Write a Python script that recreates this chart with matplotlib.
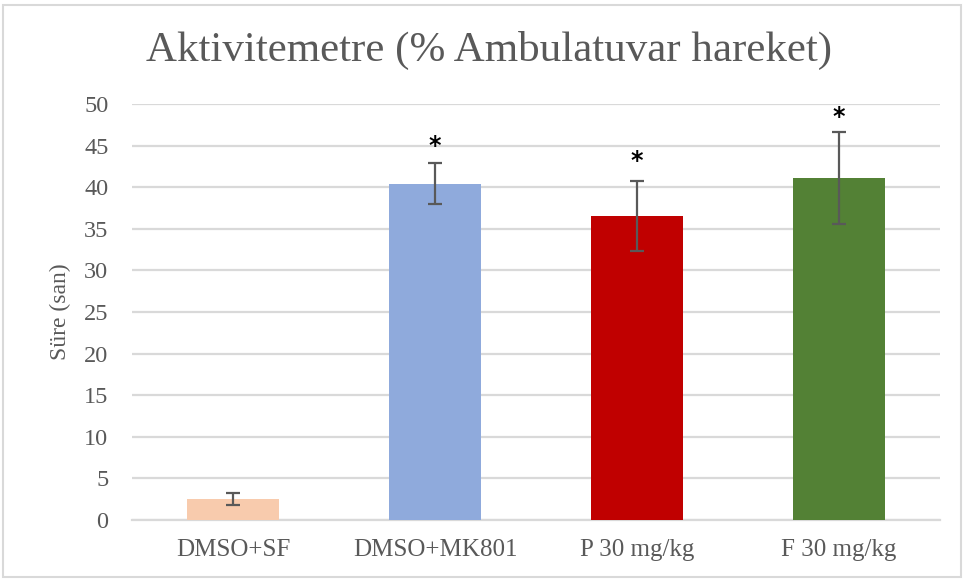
import matplotlib
matplotlib.use("Agg")
import matplotlib.pyplot as plt
from matplotlib.patches import Rectangle

categories = ["DMSO+SF", "DMSO+MK801", "P 30 mg/kg", "F 30 mg/kg"]
values = [2.5, 40.4, 36.5, 41.1]
errors = [0.75, 2.45, 4.2, 5.55]
star_heights = [None, 44.95, 43.1, 48.4]
colors = ["#F8CBAD", "#8FAADC", "#C00000", "#538135"]
yticks = [0, 5, 10, 15, 20, 25, 30, 35, 40, 45, 50]

W, H = 963, 580
fig = plt.figure(figsize=(W / 100, H / 100), dpi=100)
serif = ["Liberation Serif", "DejaVu Serif"]
txt = "#595959"

ax = fig.add_axes([132 / W, (H - 520) / H, (940 - 132) / W, (520 - 104) / H])
x = list(range(len(categories)))
ax.bar(x, values, width=0.455, color=colors, zorder=3)
ax.errorbar(x, values, yerr=errors, fmt="none", ecolor="#595959",
            elinewidth=1.6, capsize=5, capthick=1.6, zorder=4)
for xi, s in zip(x, star_heights):
    if s is not None:
        ax.text(xi, s, "*", ha="center", va="center", fontsize=17,
                fontweight="bold", color="black", family="DejaVu Sans", zorder=5)

ax.set_xlim(-0.5, len(categories) - 0.5)
ax.set_ylim(0, 50)
ax.set_yticks(yticks)
ax.set_xticks(x)
ax.set_xticklabels(categories, family=serif, fontsize=18, color=txt)
ax.set_yticklabels([str(t) for t in yticks], family=serif, fontsize=17.5, color=txt)
ax.tick_params(axis="y", length=0, pad=17)
ax.tick_params(axis="x", length=0, pad=14)
ax.grid(axis="y", color="#D9D9D9", linewidth=1.6, zorder=0)
for sp in ["top", "right", "left"]:
    ax.spines[sp].set_visible(False)
ax.spines["bottom"].set_color("#D9D9D9")
ax.spines["bottom"].set_linewidth(1.6)
ax.spines["bottom"].set_zorder(2)

fig.text(489 / W, 1 - 50 / H, "Aktivitemetre (% Ambulatuvar hareket)",
         ha="center", va="center", fontsize=31, color=txt, family=serif)
fig.text(60 / W, 1 - 312 / H, "Süre (san)", rotation=90, ha="center",
         va="center", fontsize=17, color=txt, family=serif)

fig.patches.append(Rectangle((3 / W, 3 / H), (W - 5) / W, (H - 8) / H,
                             transform=fig.transFigure, fill=False,
                             edgecolor="#D9D9D9", linewidth=1.5))

fig.savefig("out.png", dpi=100)
